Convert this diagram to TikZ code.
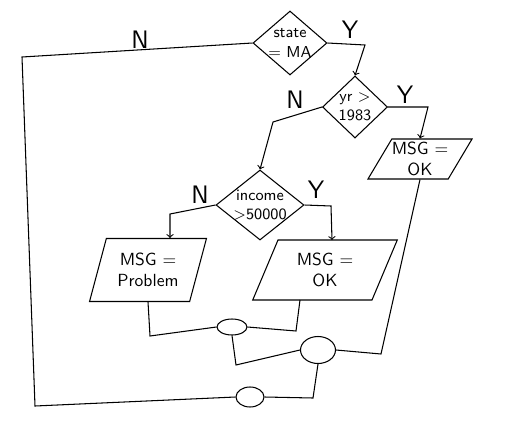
\documentclass[tikz,border=0pt]{standalone}
\usepackage{tikz}
\usetikzlibrary{calc,shapes,shapes.geometric}

\tikzset{
	decide/.style={draw,diamond,inner sep=0pt},
	says/.style={align=center,font=\sffamily\small},
	msgbox/.style={draw,trapezium,trapezium stretches=true,inner sep=0pt,align=center,font=\sffamily},
	joint/.style={draw,ellipse,inner sep=0pt},
	yn/.style={font=\sffamily\Large}
}

\begin{document}
\begin{tikzpicture}[x=0.02cm,y=-0.02cm,line width=0.6pt]
		\useasboundingbox (0,0) rectangle (514,423);
		
		% decisions
		\node[decide,minimum width=1.48cm,minimum height=1.28cm,label={[says]center:state\\= MA}] (state) at (290,43) {};
		\node[decide,minimum width=1.3cm,minimum height=1.24cm,label={[says]center:yr $>$\\1983}] (yr) at (355,107) {};
		\node[decide,minimum width=1.76cm,minimum height=1.4cm,label={[says]center:income\\$>$50000}] (income) at (260,205) {};
		
		% messages
		\node[msgbox,trapezium left angle=55,trapezium right angle=125,minimum width=2cm,minimum height=0.8cm] (okA) at (420,159) {MSG =\\OK};
		\node[msgbox,trapezium left angle=70,trapezium right angle=110,minimum width=2.34cm,minimum height=1.26cm] (prob) at (148,270) {MSG =\\Problem};
		\node[msgbox,trapezium left angle=66,trapezium right angle=114,minimum width=2.9cm,minimum height=1.2cm] (okB) at (325,270) {MSG =\\OK};
		
		% joins
		\node[joint,minimum width=0.6cm,minimum height=0.32cm] (jA) at (232,327) {};
		\node[joint,minimum width=0.7cm,minimum height=0.54cm] (jB) at (318,350) {};
		\node[joint,minimum width=0.56cm,minimum height=0.4cm] (jC) at (250,397) {};
		
		% yes / no labels
		\node[yn] (nState) at (140,40) {N};
		\node[yn] (yState) at (350,30) {Y};
		\node[yn] (nYr) at (295,100) {N};
		\node[yn] (yYr) at (405,95) {Y};
		\node[yn] (nInc) at (200,195) {N};
		\node[yn] (yInc) at (316,190) {Y};
		
		% connectors
		\draw (state.west) -- (22,57) -- (35,406) -- (jC.west);
		\draw[->] (state.east) -- (365,45) -- (yr.north);
		\draw[->] (yr.west) -- (273,122) -- (income.north);
		\draw[->] (yr.east) -- (428,107) -- (okA.north);
		\draw[->] (income.west) -- (170,214) -- (170,238);
		\draw[->] (income.east) -- (331,206) -- (332,240);
		\draw (prob.south) -- (150,336) -- (jA.west);
		\draw (300,300) -- (296,331) -- (jA.east);
		\draw (jA.south) -- (236,365) -- (jB.west);
		\draw (okA.south) -- (381,354) -- (jB.east);
		\draw (jB.south) -- (313,398) -- (jC.east);
\end{tikzpicture}
\end{document}
